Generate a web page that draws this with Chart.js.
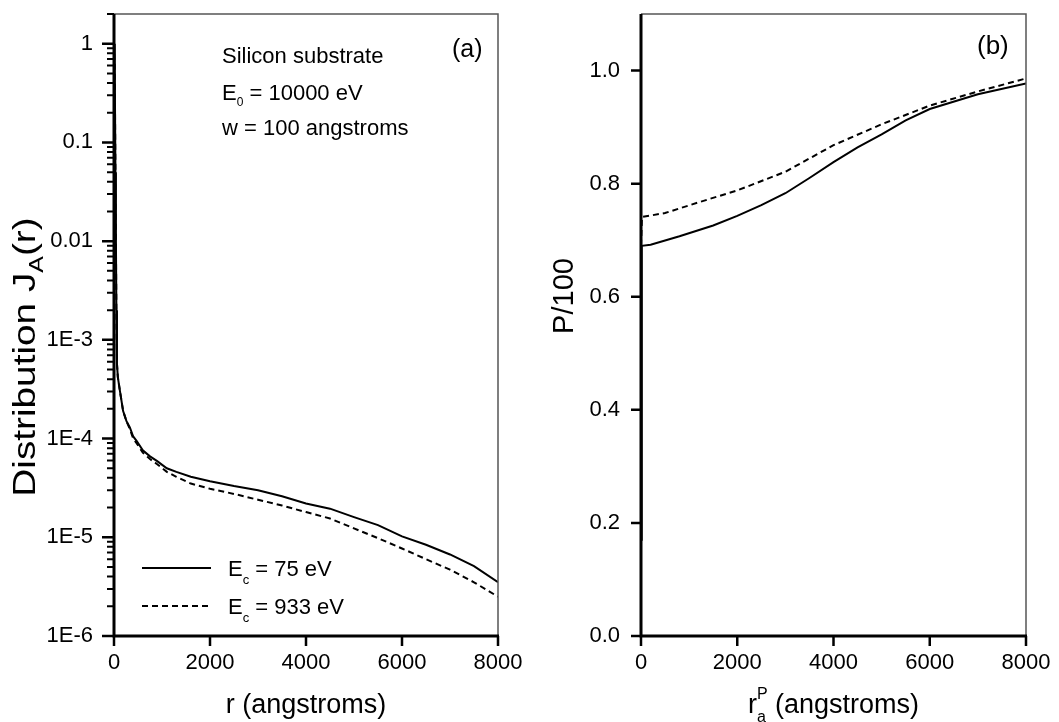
<!DOCTYPE html>
<html>
<head>
<meta charset="utf-8">
<script src="https://cdn.jsdelivr.net/npm/chart.js@4/dist/chart.umd.min.js"></script>
<style>
  html, body { margin: 0; padding: 0; background: #fff; }
  #wrap { position: relative; width: 1059px; height: 722px; }
  .panel { position: absolute; top: 0; height: 722px; }
</style>
</head>
<body>
<div id="wrap">
  <div class="panel" style="left:0;width:530px"><canvas id="chartA" width="530" height="722"></canvas></div>
  <div class="panel" style="left:530px;width:529px"><canvas id="chartB" width="529" height="722"></canvas></div>
</div>
<script>
// (a) distribution J_A(r), log scale
const rA = [0, 15, 30, 40, 50, 62, 80, 125, 190, 260, 330, 400, 470, 600, 750, 900, 1100, 1300, 1600, 2000, 2500, 3000, 3500, 4000, 4500, 5000, 5500, 6000, 6500, 7000, 7500, 8000];
const jA75 = [1.0, 0.6, 0.05, 0.01, 2e-3, 5.7e-4, 4.2e-4, 3.0e-4, 1.9e-4, 1.5e-4, 1.3e-4, 1.05e-4, 9.5e-5, 7.6e-5, 6.6e-5, 5.9e-5, 5.0e-5, 4.6e-5, 4.1e-5, 3.7e-5, 3.3e-5, 3.0e-5, 2.6e-5, 2.2e-5, 1.95e-5, 1.6e-5, 1.33e-5, 1.02e-5, 8.4e-6, 6.7e-6, 5.1e-6, 3.5e-6];
const jA933 = [1.0, 0.6, 0.05, 0.01, 2e-3, 5.7e-4, 4.2e-4, 3.0e-4, 1.9e-4, 1.5e-4, 1.25e-4, 1.0e-4, 9.0e-5, 7.2e-5, 6.2e-5, 5.5e-5, 4.6e-5, 4.1e-5, 3.5e-5, 3.1e-5, 2.75e-5, 2.4e-5, 2.1e-5, 1.8e-5, 1.55e-5, 1.23e-5, 9.8e-6, 7.7e-6, 6.0e-6, 4.7e-6, 3.5e-6, 2.5e-6];

// (b) P/100 vs r_a^P
const rB75 = [0, 10, 20, 200, 800, 1500, 2000, 2500, 3000, 3500, 4000, 4500, 5000, 5500, 6000, 7000, 8000];
const pB75 = [0.17, 0.5, 0.69, 0.692, 0.707, 0.726, 0.743, 0.762, 0.783, 0.81, 0.838, 0.864, 0.887, 0.912, 0.932, 0.958, 0.977];
const rB933 = [0, 20, 500, 1200, 2000, 3000, 4000, 5000, 6000, 7000, 8000];
const pB933 = [0.69, 0.741, 0.748, 0.767, 0.788, 0.821, 0.868, 0.905, 0.938, 0.963, 0.986];

const xTicks = [0, 2000, 4000, 6000, 8000];
const yTicksA = [1e-6, 1e-5, 1e-4, 1e-3, 0.01, 0.1, 1];
const yLabelsA = ["1E-6", "1E-5", "1E-4", "1E-3", "0.01", "0.1", "1"];
const yTicksB = [0, 0.2, 0.4, 0.6, 0.8, 1.0];

const FONT = '"Liberation Sans", Arial, sans-serif';

// 여러 크기의 글자를 이어서 그림 (아래첨자/위첨자용)
function richWidth(ctx, parts) {
  let w = 0;
  parts.forEach((p) => {
    if (p.stack) return;
    ctx.font = p.size + "px " + FONT;
    w += ctx.measureText(p.t).width;
  });
  return w;
}

function richText(ctx, parts, x, y) {
  let cx = x;
  ctx.textAlign = "left";
  ctx.textBaseline = "alphabetic";
  parts.forEach((p) => {
    ctx.font = p.size + "px " + FONT;
    ctx.fillText(p.t, cx, y + (p.dy || 0));
    if (!p.stack) cx += ctx.measureText(p.t).width;
  });
}

// 축 틀과 눈금
function makeFramePlugin(yMajorLen, logMinor) {
  return {
    id: "frame",
    afterDraw(chart) {
      const ctx = chart.ctx;
      const a = chart.chartArea;
      const xs = chart.scales.x;
      const ys = chart.scales.y;
      ctx.save();
      ctx.strokeStyle = "#555";
      ctx.lineWidth = 1.5;
      ctx.beginPath();
      ctx.moveTo(a.left, a.top);
      ctx.lineTo(a.right, a.top);
      ctx.lineTo(a.right, a.bottom);
      ctx.stroke();

      ctx.strokeStyle = "#000";
      ctx.lineWidth = 3;
      ctx.beginPath();
      ctx.moveTo(a.left, a.top);
      ctx.lineTo(a.left, a.bottom);
      ctx.moveTo(a.left - 1.5, a.bottom);
      ctx.lineTo(a.right + 1, a.bottom);
      ctx.stroke();

      ctx.lineWidth = 2.5;
      ctx.beginPath();
      xTicks.forEach((v) => {
        const px = xs.getPixelForValue(v);
        ctx.moveTo(px, a.bottom);
        ctx.lineTo(px, a.bottom + 10);
      });
      ys.ticks.forEach((t) => {
        const py = ys.getPixelForValue(t.value);
        ctx.moveTo(a.left, py);
        ctx.lineTo(a.left - yMajorLen, py);
      });
      ctx.stroke();

      if (logMinor) {
        ctx.lineWidth = 2;
        ctx.beginPath();
        for (let e = -6; e <= 0; e++) {
          for (let m = 2; m <= 9; m++) {
            const v = m * Math.pow(10, e);
            if (v > ys.max + 1e-9) continue;
            const py = ys.getPixelForValue(v);
            ctx.moveTo(a.left, py);
            ctx.lineTo(a.left - 7, py);
          }
        }
        ctx.stroke();
      }
      ctx.restore();
    },
  };
}

const textPluginA = {
  id: "textA",
  afterDraw(chart) {
    const ctx = chart.ctx;
    const a = chart.chartArea;
    ctx.save();
    ctx.fillStyle = "#000";

    richText(ctx, [{ t: "Silicon substrate", size: 22 }], 222, 63);
    richText(ctx, [{ t: "E", size: 22 }, { t: "0", size: 12, dy: 6 }, { t: " = 10000 eV", size: 22 }], 222, 100);
    richText(ctx, [{ t: "w = 100 angstroms", size: 22 }], 222, 135);
    richText(ctx, [{ t: "(a)", size: 25 }], 452, 57);

    // 범례
    ctx.strokeStyle = "#000";
    ctx.lineWidth = 2;
    ctx.beginPath();
    ctx.moveTo(142, 568);
    ctx.lineTo(211, 568);
    ctx.stroke();
    ctx.setLineDash([6, 4]);
    ctx.beginPath();
    ctx.moveTo(142, 606);
    ctx.lineTo(211, 606);
    ctx.stroke();
    ctx.setLineDash([]);
    richText(ctx, [{ t: "E", size: 22 }, { t: "c", size: 13, dy: 8 }, { t: " = 75 eV", size: 22 }], 228, 576);
    richText(ctx, [{ t: "E", size: 22 }, { t: "c", size: 13, dy: 8 }, { t: " = 933 eV", size: 22 }], 228, 614);

    // x 축 제목
    const xt = [{ t: "r (angstroms)", size: 27 }];
    const cx = (a.left + a.right) / 2;
    richText(ctx, xt, cx - richWidth(ctx, xt) / 2, 713);

    // y 축 제목 (회전, 글자 방향으로 약간 늘림)
    const yt = [{ t: "Distribution J", size: 31 }, { t: "A", size: 20, dy: 8 }, { t: "(r)", size: 31 }];
    ctx.translate(35, 357);
    ctx.rotate(-Math.PI / 2);
    ctx.scale(1.25, 1);
    richText(ctx, yt, -richWidth(ctx, yt) / 2, 0);
    ctx.restore();
  },
};

const textPluginB = {
  id: "textB",
  afterDraw(chart) {
    const ctx = chart.ctx;
    const a = chart.chartArea;
    ctx.save();
    ctx.fillStyle = "#000";
    richText(ctx, [{ t: "(b)", size: 26 }], 447, 54);

    const xt = [
      { t: "r", size: 27 },
      { t: "a", size: 16, dy: 9, stack: true },
      { t: "P", size: 16, dy: -14 },
      { t: " (angstroms)", size: 27 },
    ];
    const cx = (a.left + a.right) / 2;
    richText(ctx, xt, cx - richWidth(ctx, xt) / 2, 713);

    const yt = [{ t: "P/100", size: 29 }];
    ctx.translate(43, 296);
    ctx.rotate(-Math.PI / 2);
    richText(ctx, yt, -richWidth(ctx, yt) / 2, 0);
    ctx.restore();
  },
};

function xScale() {
  return {
    type: "linear",
    min: 0,
    max: 8000,
    afterBuildTicks: (s) => {
      s.ticks = xTicks.map((v) => ({ value: v }));
    },
    afterFit: (s) => {
      s.height = 86;
      s.paddingLeft = 0;
      s.paddingRight = 0;
    },
    grid: { display: false, drawTicks: false },
    border: { display: false },
    ticks: {
      font: { family: FONT, size: 22 },
      color: "#000",
      padding: 14,
      maxRotation: 0,
      autoSkip: false,
      callback: (v) => String(v),
    },
  };
}

function lineSet(xv, yv, dashed) {
  return {
    data: xv.map((x, i) => ({ x: x, y: yv[i] })),
    borderColor: "#000",
    borderWidth: 2,
    borderDash: dashed ? [6, 4] : [],
    pointRadius: 0,
    tension: 0,
    fill: false,
  };
}

const common = {
  responsive: false,
  animation: false,
  devicePixelRatio: 1,
  events: [],
  plugins: { legend: { display: false }, tooltip: { enabled: false } },
};

window.chartA = new Chart(document.getElementById("chartA"), {
  type: "line",
  data: { datasets: [lineSet(rA, jA75, false), lineSet(rA, jA933, true)] },
  options: {
    ...common,
    layout: { padding: { top: 14, right: 32, left: 0, bottom: 0 } },
    scales: {
      x: xScale(),
      y: {
        type: "logarithmic",
        min: 1e-6,
        max: 2,
        afterBuildTicks: (s) => {
          s.ticks = yTicksA.map((v) => ({ value: v }));
        },
        afterFit: (s) => {
          s.width = 114;
          s.paddingTop = 0;
          s.paddingBottom = 0;
        },
        grid: { display: false, drawTicks: false },
        border: { display: false },
        ticks: {
          font: { family: FONT, size: 22 },
          color: "#000",
          padding: 21,
          autoSkip: false,
          callback: (v) => {
            const i = yTicksA.findIndex((t) => Math.abs(Math.log10(t) - Math.log10(v)) < 1e-6);
            return i >= 0 ? yLabelsA[i] : "";
          },
        },
      },
    },
  },
  plugins: [makeFramePlugin(12, true), textPluginA],
});

window.chartB = new Chart(document.getElementById("chartB"), {
  type: "line",
  data: { datasets: [lineSet(rB75, pB75, false), lineSet(rB933, pB933, true)] },
  options: {
    ...common,
    layout: { padding: { top: 14, right: 33, left: 0, bottom: 0 } },
    scales: {
      x: xScale(),
      y: {
        type: "linear",
        min: 0,
        max: 1.1,
        afterBuildTicks: (s) => {
          s.ticks = yTicksB.map((v) => ({ value: v }));
        },
        afterFit: (s) => {
          s.width = 111;
          s.paddingTop = 0;
          s.paddingBottom = 0;
        },
        grid: { display: false, drawTicks: false },
        border: { display: false },
        ticks: {
          font: { family: FONT, size: 22 },
          color: "#000",
          padding: 21,
          autoSkip: false,
          callback: (v) => v.toFixed(1),
        },
      },
    },
  },
  plugins: [makeFramePlugin(10, false), textPluginB],
});
</script>
</body>
</html>
